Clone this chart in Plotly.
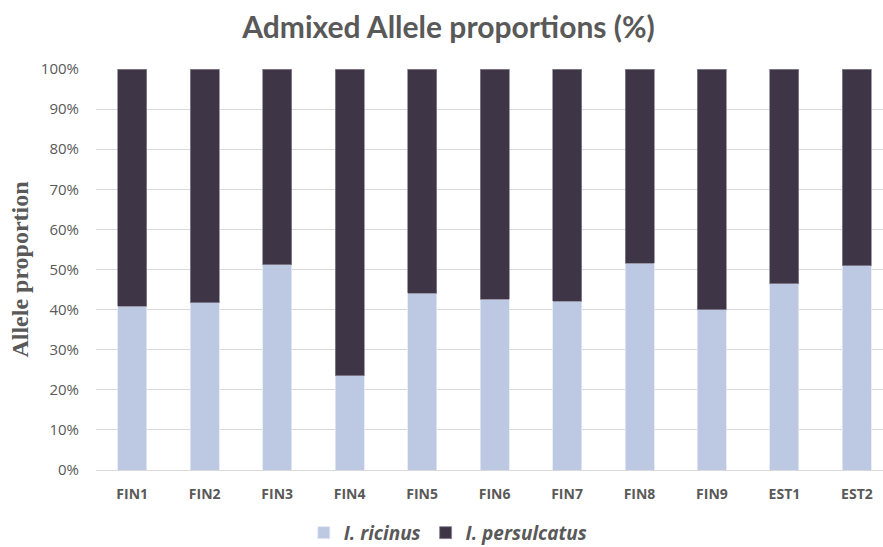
import plotly.graph_objects as go

# Admixed allele proportions per sampling site
sites = ["FIN1", "FIN2", "FIN3", "FIN4", "FIN5", "FIN6", "FIN7", "FIN8", "FIN9", "EST1", "EST2"]
ricinus = [40.8, 41.7, 51.2, 23.5, 44.1, 42.6, 42.1, 51.5, 40.0, 46.5, 50.9]
persulcatus = [round(100 - v, 1) for v in ricinus]

C_RIC = "#BDC9E3"
C_PER = "#3E3647"
GREY = "#595959"

fig = go.Figure()
fig.add_trace(go.Bar(
    x=sites, y=[v / 100 for v in ricinus], name="I. ricinus",
    marker=dict(color=C_RIC, line=dict(color="#E4E8F3", width=0.8)),
    width=0.4,
))
fig.add_trace(go.Bar(
    x=sites, y=[v / 100 for v in persulcatus], name="I. persulcatus",
    marker=dict(color=C_PER, line=dict(color="#8A8494", width=0.8)),
    width=0.4,
))

fig.update_layout(
    barmode="stack",
    width=883, height=547,
    paper_bgcolor="white", plot_bgcolor="white",
    margin=dict(l=96, r=0, t=69, b=77, autoexpand=False),
    title=dict(
        text="Admixed Allele proportions (%)",
        x=0.508, xanchor="center", y=0.95, yanchor="middle",
        font=dict(family="Lato", size=30, color=GREY, weight="bold"),
    ),
    xaxis=dict(
        range=[-0.5, 10.36],
        showgrid=False, showline=False, ticks="", ticklabelstandoff=14,
        tickfont=dict(family="Open Sans", size=14, color=GREY, weight="bold"),
    ),
    yaxis=dict(
        range=[0, 1], dtick=0.1, tickformat=".0%",
        showgrid=True, gridcolor="#D9D9D9", gridwidth=1,
        zeroline=True, zerolinecolor="#D9D9D9", zerolinewidth=1,
        showline=False, ticks="", ticklabelstandoff=16,
        tickfont=dict(family="Open Sans", size=15, color=GREY),
        title=dict(
            text="Allele proportion", standoff=5,
            font=dict(family="Liberation Serif", size=24, color=GREY, weight="bold"),
        ),
    ),
    legend=dict(
        orientation="h", x=0.447, xanchor="center",
        yref="container", y=0.026, yanchor="middle",
        font=dict(family="Open Sans", size=19, color=GREY, weight="bold", style="italic"),
        traceorder="normal", itemwidth=30,
    ),
)

fig.write_html("out.html")
